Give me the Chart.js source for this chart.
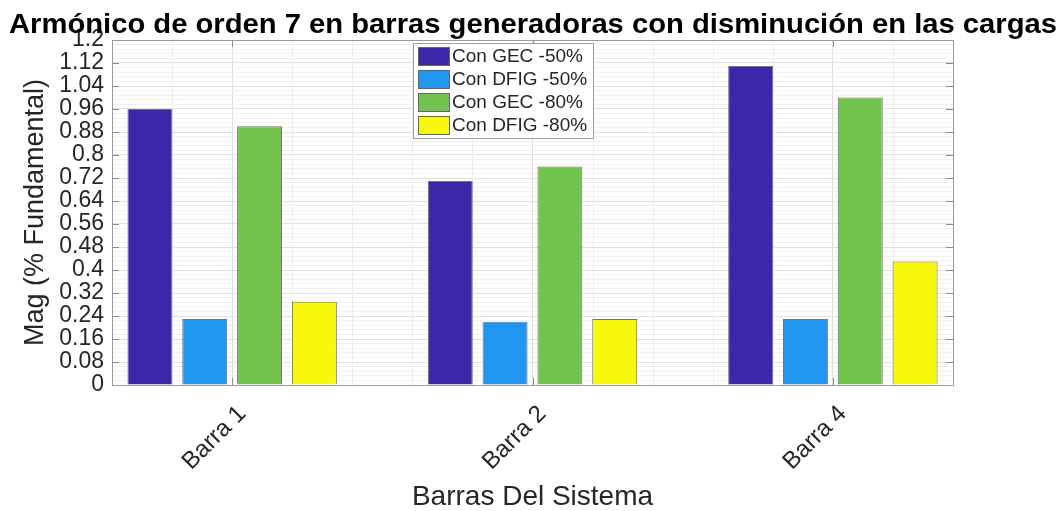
<!DOCTYPE html>
<html>
<head>
<meta charset="utf-8">
<title>Armónico de orden 7</title>
<script src="https://cdn.jsdelivr.net/npm/chart.js@4/dist/chart.umd.min.js"></script>
<style>
  html, body { margin: 0; padding: 0; background: #fff; }
  canvas { display: block; }
</style>
</head>
<body>
<canvas id="armonico" width="1061" height="511"></canvas>
<script>
// datos
let categories = ["Barra 1", "Barra 2", "Barra 4"];
let seriesNames = ["Con GEC -50%", "Con DFIG -50%", "Con GEC -80%", "Con DFIG -80%"];
let gec50 = [0.96, 0.71, 1.11];
let dfig50 = [0.23, 0.22, 0.23];
let gec80 = [0.9, 0.76, 1.0];
let dfig80 = [0.29, 0.23, 0.43];
let seriesColors = ["#3e26a8", "#2196f0", "#73c44f", "#f8f80c"];
let yMax = 1.2;
let yStep = 0.08;
let titleText = "Armónico de orden 7 en barras generadoras con disminución en las cargas";

const FONT = "'Liberation Sans', Arial, Helvetica, sans-serif";

function toPoints(values) {
  return values.map((v, i) => ({ x: i + 1, y: v }));
}

function isMajorY(v) {
  let r = v / yStep;
  return Math.abs(r - Math.round(r)) < 1e-6;
}

// titulo ajustado al ancho de la figura original
const wideTitle = {
  id: "wideTitle",
  afterDraw(chart) {
    const ctx = chart.ctx;
    ctx.save();
    ctx.font = "bold 28px " + FONT;
    const w = ctx.measureText(titleText).width;
    const sx = 1048 / w;
    ctx.translate(533, 33);
    ctx.scale(sx, 1);
    ctx.fillStyle = "#000";
    ctx.textAlign = "center";
    ctx.textBaseline = "alphabetic";
    ctx.fillText(titleText, 0, 0);
    ctx.restore();
  },
};

// rejilla menor vertical, marco, marcas interiores y leyenda estilo MATLAB
const matlabFrame = {
  id: "matlabFrame",
  beforeDatasetsDraw(chart) {
    const ctx = chart.ctx;
    const a = chart.chartArea;
    const xs = chart.scales.x;
    ctx.save();
    ctx.strokeStyle = "#eeeeee";
    ctx.lineWidth = 1;
    for (let k = 3; k <= 17; k++) {
      if (k % 5 === 0) continue;
      let px = Math.round(xs.getPixelForValue(k / 5)) + 0.5;
      ctx.beginPath();
      ctx.moveTo(px, a.top);
      ctx.lineTo(px, a.bottom);
      ctx.stroke();
    }
    ctx.restore();
  },
  afterDatasetsDraw(chart) {
    const ctx = chart.ctx;
    const a = chart.chartArea;
    const ys = chart.scales.y;
    const xs = chart.scales.x;
    ctx.save();
    ctx.strokeStyle = "#8a8a8a";
    ctx.lineWidth = 1;
    for (let v = 0; v <= yMax + 1e-9; v += yStep) {
      let py = Math.round(ys.getPixelForValue(v)) + 0.5;
      ctx.beginPath();
      ctx.moveTo(a.left, py);
      ctx.lineTo(a.left + 7, py);
      ctx.moveTo(a.right, py);
      ctx.lineTo(a.right - 7, py);
      ctx.stroke();
    }
    categories.forEach((c, i) => {
      let px = Math.round(xs.getPixelForValue(i + 1)) + 0.5;
      ctx.beginPath();
      ctx.moveTo(px, a.bottom);
      ctx.lineTo(px, a.bottom - 7);
      ctx.moveTo(px, a.top);
      ctx.lineTo(px, a.top + 7);
      ctx.stroke();
    });
    ctx.strokeStyle = "#9a9a9a";
    ctx.strokeRect(a.left + 0.5, a.top + 0.5, a.right - a.left, a.bottom - a.top);

    // leyenda
    const lx = a.left + 301;
    const ly = a.top + 3;
    const lw = 180;
    const lh = 95;
    ctx.fillStyle = "#ffffff";
    ctx.fillRect(lx, ly, lw, lh);
    ctx.strokeStyle = "#a0a0a0";
    ctx.strokeRect(lx + 0.5, ly + 0.5, lw, lh);
    ctx.font = "19px " + FONT;
    ctx.textBaseline = "middle";
    ctx.textAlign = "left";
    chart.data.datasets.forEach((ds, i) => {
      let ry = ly + 4 + i * 23;
      ctx.fillStyle = ds.backgroundColor;
      ctx.fillRect(lx + 5, ry, 32, 19);
      ctx.strokeStyle = "#666";
      ctx.strokeRect(lx + 5.5, ry + 0.5, 31, 18);
      ctx.fillStyle = "#262626";
      ctx.fillText(ds.label, lx + 39, ry + 10);
    });
    ctx.restore();
  },
};

const datasets = [gec50, dfig50, gec80, dfig80].map((vals, i) => ({
  label: seriesNames[i],
  data: toPoints(vals),
  backgroundColor: seriesColors[i],
  borderColor: "rgba(70,70,70,0.75)",
  borderWidth: 1,
  categoryPercentage: 0.73,
  barPercentage: 0.82,
}));

new Chart(document.getElementById("armonico"), {
  type: "bar",
  data: { datasets: datasets },
  plugins: [matlabFrame, wideTitle],
  options: {
    responsive: false,
    animation: false,
    layout: { padding: { left: 0, right: 108, top: 40, bottom: 0 } },
    plugins: {
      legend: { display: false },
      tooltip: { enabled: false },
      title: { display: false },
    },
    scales: {
      x: {
        type: "linear",
        min: 0.6,
        max: 3.4,
        offset: false,
        afterFit: (s) => { s.height = 126; },
        afterBuildTicks: (s) => {
          s.ticks = categories.map((c, i) => ({ value: i + 1 }));
        },
        grid: {
          offset: false,
          drawTicks: false,
          color: "#dcdcdc",
        },
        border: { display: false },
        ticks: {
          autoSkip: false,
          minRotation: 45,
          maxRotation: 45,
          padding: 15,
          labelOffset: 10,
          color: "#262626",
          font: { family: FONT, size: 24 },
          callback: (v) => categories[Math.round(v) - 1] || "",
        },
        title: {
          display: true,
          text: "Barras Del Sistema",
          color: "#262626",
          font: { family: FONT, size: 28, lineHeight: 1 },
          padding: { top: 0, bottom: 0 },
        },
      },
      y: {
        min: 0,
        max: yMax,
        afterFit: (s) => { s.width = 112; },
        afterBuildTicks: (s) => {
          let t = [];
          for (let k = 0; k <= 75; k++) t.push({ value: +(k * 0.016).toFixed(3) });
          s.ticks = t;
        },
        grid: {
          drawTicks: false,
          color: (c) => (c.tick && isMajorY(c.tick.value) ? "#e0e0e0" : "#f1f1f1"),
        },
        border: { display: false },
        ticks: {
          autoSkip: false,
          padding: 8,
          color: "#262626",
          font: { family: FONT, size: 23 },
          callback: (v) => (isMajorY(v) ? String(Number(v.toFixed(2))) : ""),
        },
        title: {
          display: true,
          text: "Mag (% Fundamental)",
          color: "#262626",
          font: { family: FONT, size: 27 },
          padding: { top: 19, bottom: 0 },
        },
      },
    },
  },
});
</script>
</body>
</html>
